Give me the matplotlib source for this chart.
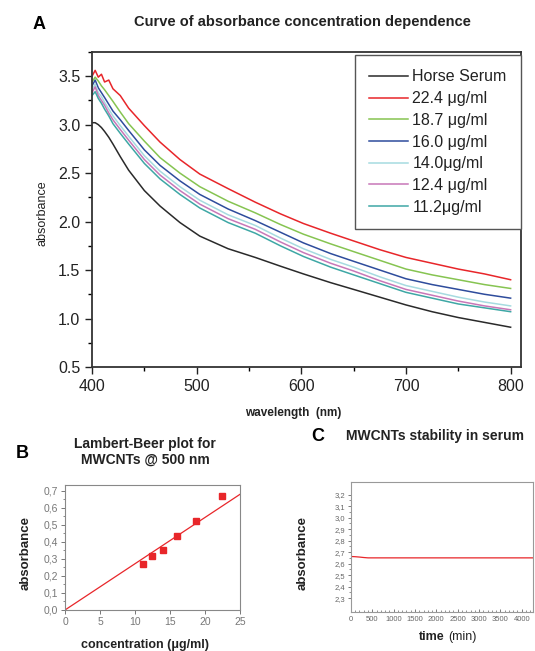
import numpy as np
import matplotlib
matplotlib.use('Agg')
import matplotlib.pyplot as plt
from matplotlib.ticker import MultipleLocator, FixedLocator, FuncFormatter

plt.rcParams['font.family'] = ['Liberation Sans', 'DejaVu Sans']

# ---- panel A data: absorbance spectra ----
wavelength = [400, 403, 406, 409, 412, 416, 420, 427, 435, 450, 465, 484, 503,
              530, 556, 580, 602, 628, 650, 675, 700, 725, 750, 775, 800]
horse_serum = [3.02, 3.02, 3.00, 2.97, 2.93, 2.87, 2.80, 2.67, 2.53, 2.32, 2.16, 1.99, 1.85,
               1.72, 1.63, 1.54, 1.46, 1.37, 1.30, 1.22, 1.14, 1.07, 1.01, 0.96, 0.91]
c224 = [3.50, 3.56, 3.49, 3.52, 3.44, 3.46, 3.37, 3.30, 3.17, 2.99, 2.82, 2.64, 2.49,
        2.34, 2.20, 2.08, 1.98, 1.88, 1.80, 1.71, 1.63, 1.57, 1.51, 1.46, 1.40]
c187 = [3.44, 3.49, 3.45, 3.40, 3.36, 3.30, 3.24, 3.13, 3.01, 2.83, 2.66, 2.50, 2.36,
        2.21, 2.09, 1.97, 1.87, 1.77, 1.69, 1.60, 1.51, 1.45, 1.40, 1.35, 1.31]
c160 = [3.40, 3.46, 3.38, 3.33, 3.28, 3.21, 3.14, 3.05, 2.94, 2.74, 2.58, 2.42, 2.28,
        2.13, 2.01, 1.89, 1.78, 1.67, 1.59, 1.50, 1.41, 1.35, 1.30, 1.25, 1.21]
c140 = [3.36, 3.42, 3.33, 3.29, 3.23, 3.16, 3.09, 2.99, 2.88, 2.68, 2.52, 2.36, 2.22,
        2.07, 1.96, 1.83, 1.72, 1.61, 1.53, 1.43, 1.34, 1.28, 1.22, 1.17, 1.13]
c124 = [3.33, 3.39, 3.30, 3.25, 3.20, 3.12, 3.05, 2.95, 2.84, 2.64, 2.48, 2.32, 2.18,
        2.03, 1.92, 1.79, 1.68, 1.57, 1.49, 1.39, 1.30, 1.24, 1.18, 1.13, 1.09]
c112 = [3.30, 3.34, 3.27, 3.22, 3.16, 3.09, 3.01, 2.91, 2.80, 2.60, 2.44, 2.28, 2.14,
        1.99, 1.88, 1.75, 1.64, 1.53, 1.45, 1.36, 1.27, 1.21, 1.15, 1.11, 1.07]
series_labels = ['Horse Serum', '22.4 \u03bcg/ml', '18.7 \u03bcg/ml', '16.0 \u03bcg/ml',
                 '14.0\u03bcg/ml', '12.4 \u03bcg/ml', '11.2\u03bcg/ml']
series_colors = ['#2a2a2a', '#e8262a', '#86c451', '#2e4c9c', '#a6dbe0', '#c877b8', '#3ea7a5']

# ---- panel B data: Lambert-Beer ----
conc = [11.2, 12.4, 14.0, 16.0, 18.7, 22.4]
abs500 = [0.272, 0.316, 0.352, 0.435, 0.525, 0.670]
fit_x = [0, 25]
fit_y = [0.0, 0.68]

# ---- panel C data: stability ----
time_min = [0, 100, 200, 300, 400, 600, 1000, 2000, 3000, 4000, 4300]
abs_time = [2.662, 2.660, 2.657, 2.653, 2.650, 2.650, 2.650, 2.650, 2.650, 2.650, 2.650]
c_yticks = [2.3, 2.4, 2.5, 2.6, 2.7, 2.8, 2.9, 3.0, 3.1, 3.2]

fig = plt.figure(figsize=(5.35, 6.51), dpi=100)

# ================= panel A =================
axA = fig.add_axes([0.172, 0.4363, 0.802, 0.4839])
all_series = [horse_serum, c224, c187, c160, c140, c124, c112]
for ys, lab, col in zip(all_series, series_labels, series_colors):
    axA.plot(wavelength, ys, color=col, lw=1.1, label=lab)
axA.set_xlim(400, 810)
axA.set_ylim(0.5, 3.75)
axA.xaxis.set_major_locator(MultipleLocator(100))
axA.xaxis.set_minor_locator(MultipleLocator(50))
axA.yaxis.set_major_locator(MultipleLocator(0.5))
axA.yaxis.set_minor_locator(MultipleLocator(0.25))
axA.yaxis.set_major_formatter(FuncFormatter(lambda v, p: '%.1f' % v))
axA.tick_params(which='major', direction='out', length=5, width=1, labelsize=11.5,
                colors='#222222')
axA.tick_params(which='minor', direction='out', length=3, width=1)
for s in axA.spines.values():
    s.set_linewidth(1.3)
    s.set_color('#333333')
leg = axA.legend(loc='upper right', bbox_to_anchor=(1.0, 0.99), borderaxespad=0,
                 fontsize=11.5, handlelength=2.4, handletextpad=0.3, labelspacing=0.42,
                 borderpad=0.9, fancybox=False, framealpha=1, edgecolor='#555555')
leg.get_frame().set_linewidth(1.0)
for t in leg.get_texts():
    t.set_color('#222222')

fig.text(0.073, 0.963, 'A', fontsize=13, fontweight='bold', ha='center', va='center')
fig.text(0.565, 0.966, 'Curve of absorbance concentration dependence', fontsize=10.5,
         fontweight='bold', ha='center', va='center', color='#222222')
fig.text(0.080, 0.673, 'absorbance', fontsize=9, rotation=90, ha='center', va='center',
         color='#222222')
fig.text(0.548, 0.366, 'wavelength  (nm)', fontsize=8.5, fontweight='bold', ha='center',
         va='center', color='#222222')

# ================= panel B =================
axB = fig.add_axes([0.1215, 0.063, 0.327, 0.192])
axB.plot(fit_x, fit_y, color='#e8262a', lw=0.9)
axB.plot(conc, abs500, 's', color='#e8262a', markersize=4.5)
axB.set_xlim(0, 25)
axB.set_ylim(0, 0.735)
axB.xaxis.set_major_locator(MultipleLocator(5))
axB.yaxis.set_major_locator(MultipleLocator(0.1))
axB.yaxis.set_minor_locator(MultipleLocator(0.05))
axB.yaxis.set_major_formatter(FuncFormatter(lambda v, p: ('%.1f' % v).replace('.', ',')))
axB.tick_params(which='major', direction='out', length=3, width=0.7, labelsize=7.5,
                colors='#777777', pad=2)
axB.tick_params(which='minor', direction='out', length=1.5, width=0.6, colors='#777777')
for s in axB.spines.values():
    s.set_linewidth(0.8)
    s.set_color('#888888')

fig.text(0.041, 0.303, 'B', fontsize=13, fontweight='bold', ha='center', va='center')
fig.text(0.271, 0.306, 'Lambert-Beer plot for\nMWCNTs @ 500 nm', fontsize=10,
         fontweight='bold', ha='center', va='center', linespacing=1.2, color='#222222')
fig.text(0.047, 0.150, 'absorbance', fontsize=9.5, fontweight='bold', rotation=90,
         ha='center', va='center', color='#222222')
fig.text(0.271, 0.009, 'concentration (\u03bcg/ml)', fontsize=9, fontweight='bold',
         ha='center', va='center', color='#222222')

# ================= panel C =================
axC = fig.add_axes([0.656, 0.060, 0.340, 0.1997])
axC.plot(time_min, abs_time, color='#e8262a', lw=0.9)
axC.set_xlim(0, 4260)
axC.set_ylim(2.18, 3.31)
axC.xaxis.set_major_locator(MultipleLocator(500))
axC.xaxis.set_minor_locator(MultipleLocator(100))
axC.yaxis.set_major_locator(FixedLocator(c_yticks))
axC.yaxis.set_minor_locator(FixedLocator([v + 0.05 for v in c_yticks[:-1]]))
axC.yaxis.set_major_formatter(FuncFormatter(lambda v, p: ('%.1f' % v).replace('.', ',')))
axC.tick_params(axis='x', which='major', direction='in', length=2.5, width=0.6,
                labelsize=5.5, colors='#666666', pad=3)
axC.tick_params(axis='x', which='minor', direction='in', length=1.5, width=0.5,
                colors='#666666')
axC.tick_params(axis='y', which='major', direction='out', length=2.5, width=0.6,
                labelsize=5.5, colors='#666666', pad=1.5)
axC.tick_params(axis='y', which='minor', direction='out', length=1.2, width=0.5,
                colors='#666666')
for s in axC.spines.values():
    s.set_linewidth(0.8)
    s.set_color('#999999')

fig.text(0.594, 0.330, 'C', fontsize=13, fontweight='bold', ha='center', va='center')
fig.text(0.813, 0.330, 'MWCNTs stability in serum', fontsize=10, fontweight='bold',
         ha='center', va='center', color='#222222')
fig.text(0.566, 0.150, 'absorbance', fontsize=9.5, fontweight='bold', rotation=90,
         ha='center', va='center', color='#222222')
fig.text(0.830, 0.021, 'time', fontsize=9, fontweight='bold', ha='right', va='center',
         color='#222222')
fig.text(0.838, 0.021, '(min)', fontsize=9, ha='left', va='center', color='#222222')

fig.savefig('out.png', dpi=100)
